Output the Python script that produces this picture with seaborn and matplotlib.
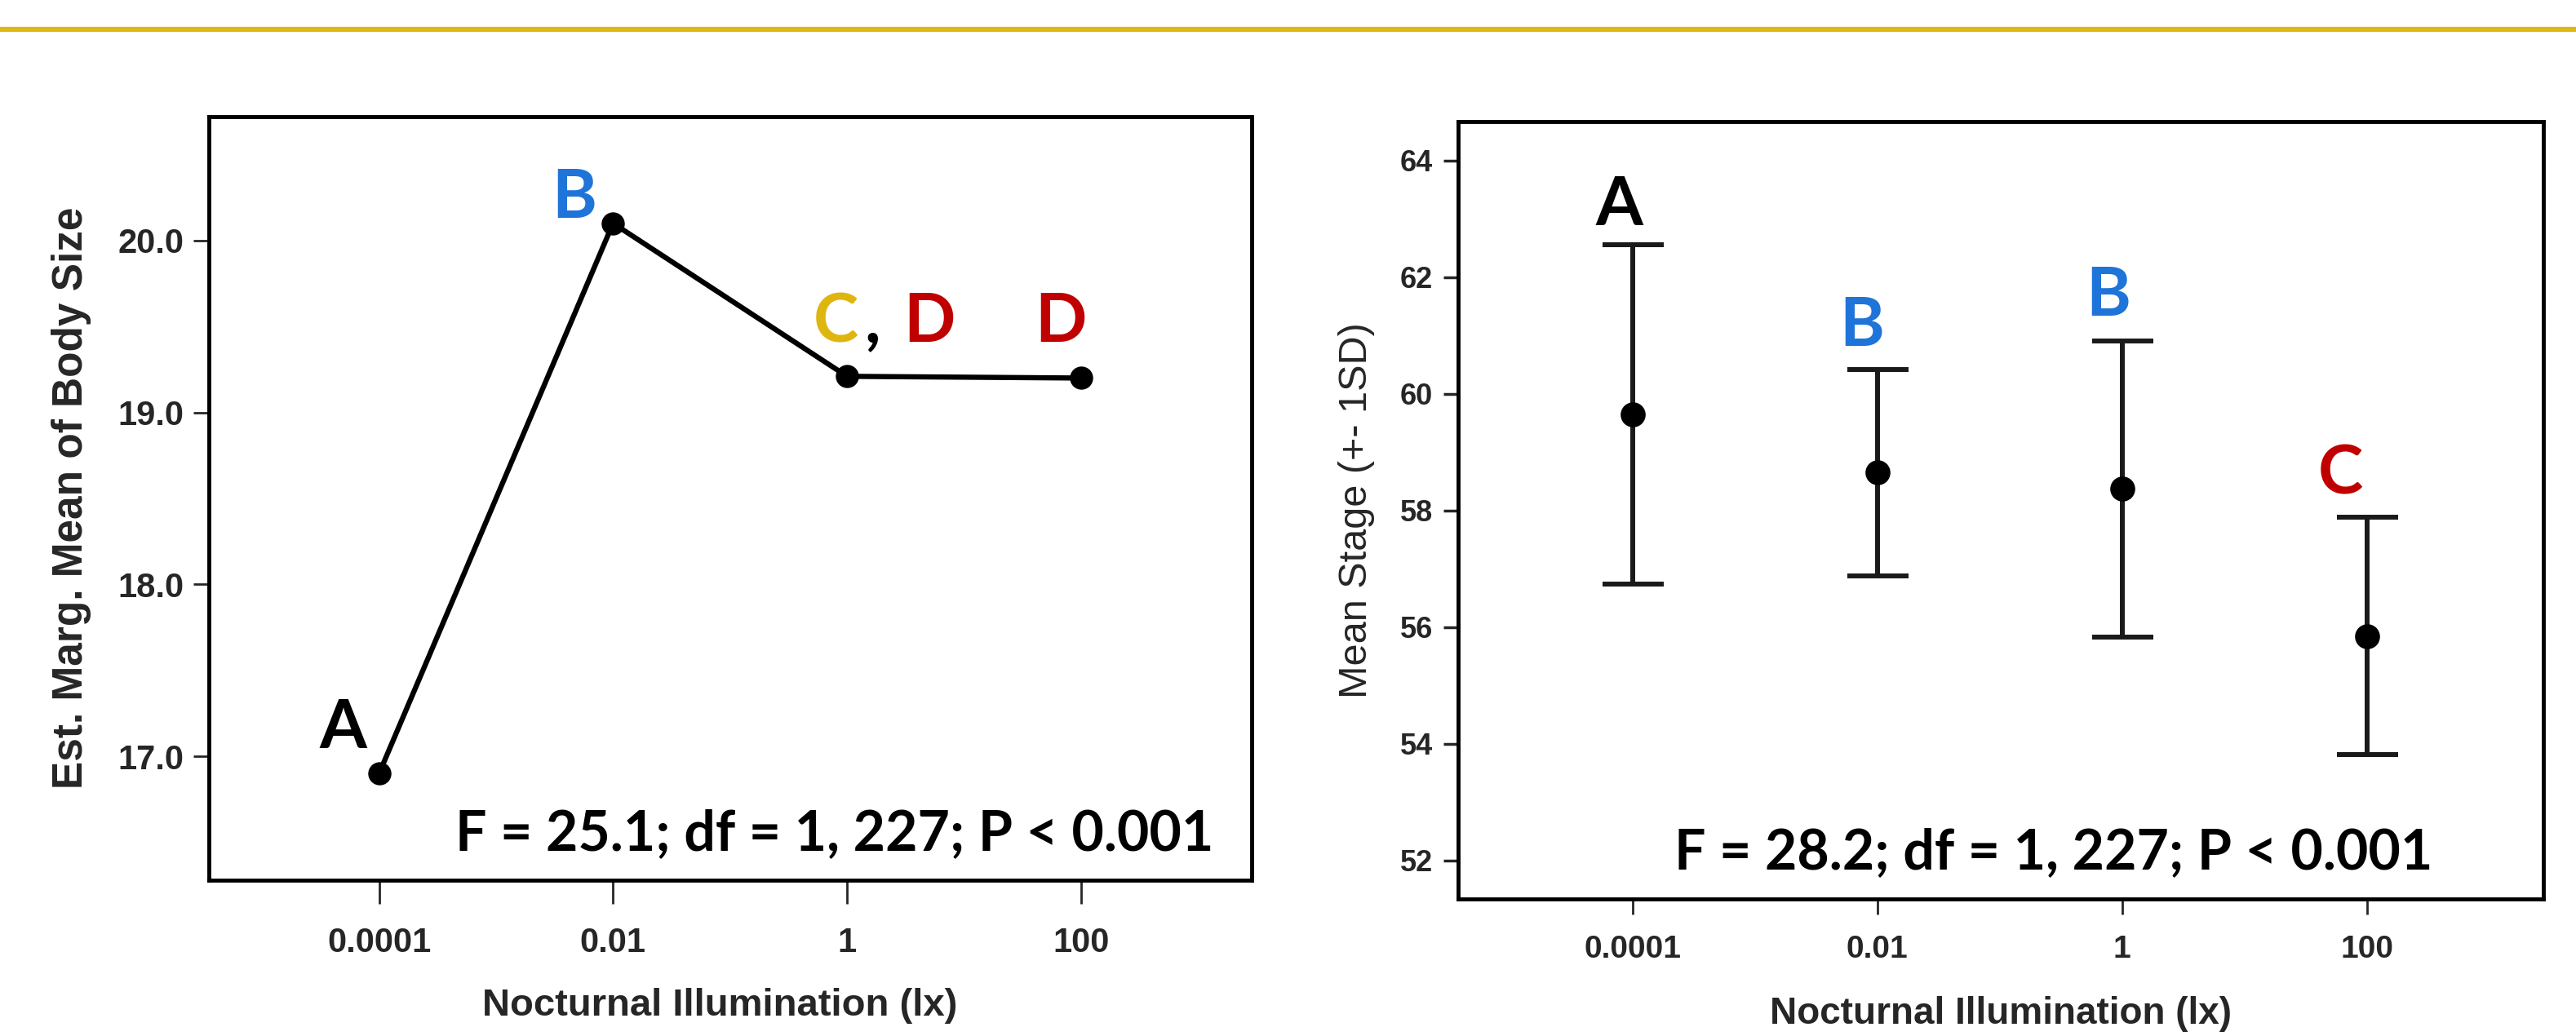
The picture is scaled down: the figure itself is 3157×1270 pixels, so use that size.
import numpy as np
import pandas as pd
import seaborn as sns
import matplotlib.pyplot as plt
from matplotlib.lines import Line2D

# data
lux = ['0.0001', '0.01', '1', '100']
body_size = [16.90, 20.10, 19.21, 19.20]
stage_mean = [59.65, 58.65, 58.37, 55.85]
stage_sd = [2.91, 1.77, 2.54, 2.04]

size_letters = ['A', 'B', 'C', 'D']
stage_letters = ['A', 'B', 'B', 'C']
stat_left = 'F = 25.1; df = 1, 227; P < 0.001'
stat_right = 'F = 28.2; df = 1, 227; P < 0.001'

BLUE = '#1F74DA'
GOLD = '#DFB50F'
RED = '#C00000'

sns.set_style('ticks')
plt.rcParams['font.family'] = ['Liberation Sans', 'DejaVu Sans']

fig = plt.figure(figsize=(31.57, 12.70), dpi=100)
ax1 = fig.add_axes([0.0811, 0.1504, 0.4048, 0.737])
ax2 = fig.add_axes([0.5660, 0.1323, 0.4213, 0.7504])

# yellow rule across the top
fig.add_artist(Line2D([0, 1], [0.9713, 0.9713], transform=fig.transFigure,
                      color='#DFB813', lw=4.5))

df1 = pd.DataFrame({'lux': lux, 'size': body_size})
sns.pointplot(data=df1, x='lux', y='size', order=lux, color='black',
              markers='o', linestyles='-', errorbar=None,
              markersize=17, linewidth=4.6, ax=ax1)

df2 = pd.DataFrame({'lux': lux, 'stage': stage_mean, 'sd': stage_sd})
ax2.errorbar(np.arange(len(lux)), df2['stage'], yerr=df2['sd'], fmt='none',
             ecolor='#1a1a1a', elinewidth=4.3, capsize=27, capthick=4.3, zorder=2)
sns.pointplot(data=df2, x='lux', y='stage', order=lux, color='black',
              markers='o', linestyles='none', errorbar=None,
              markersize=20, ax=ax2, zorder=3)

ax1.set_xlim(-0.727, 3.729)
ax1.set_ylim(16.28, 20.72)
ax1.set_yticks([17, 18, 19, 20])
ax1.set_yticklabels(['17.0', '18.0', '19.0', '20.0'])

ax2.set_xlim(-0.713, 3.72)
ax2.set_ylim(51.34, 64.67)
ax2.set_yticks([52, 54, 56, 58, 60, 62, 64])

for ax in (ax1, ax2):
    for s in ax.spines.values():
        s.set_visible(True)
        s.set_linewidth(3.5)
        s.set_color('black')
    ax.set_xticks(range(len(lux)))
    ax.set_xticklabels(lux)

ax1.tick_params(axis='y', length=14, width=2, pad=8, labelsize=30)
ax1.tick_params(axis='x', length=21, width=2, pad=20, labelsize=30)
ax2.tick_params(axis='y', length=13, width=2.5, pad=9, labelsize=26)
ax2.tick_params(axis='x', length=14, width=2, pad=18, labelsize=28)
for ax in (ax1, ax2):
    for lab in ax.get_xticklabels() + ax.get_yticklabels():
        lab.set_fontweight('bold')

ax1.set_xlabel('Nocturnal Illumination (lx)', fontsize=34, fontweight='bold')
ax1.set_ylabel('Est. Marg. Mean of Body Size', fontsize=37, fontweight='bold')
ax2.set_xlabel('Nocturnal Illumination (lx)', fontsize=33, fontweight='bold')
ax2.set_ylabel('Mean Stage (+- 1SD)', fontsize=35)
ax1.xaxis.set_label_coords(0.49, -0.1645)
ax1.xaxis.label.set_va('center')
ax1.yaxis.set_label_coords(-0.132, 0.501)
ax1.yaxis.label.set_va('center')
ax2.xaxis.set_label_coords(0.50, -0.148)
ax2.xaxis.label.set_va('center')
ax2.yaxis.set_label_coords(-0.0932, 0.4995)
ax2.yaxis.label.set_va('center')

# significance letters
lf = dict(family=['Lato', 'DejaVu Sans'], fontweight='bold', fontsize=60, va='baseline')
ax1.text(-0.155, 17.05, size_letters[0], color='black', ha='center', **lf)
ax1.text(0.835, 20.13, size_letters[1], color=BLUE, ha='center', **lf)
ax1.text(2.050, 19.41, size_letters[2], color=GOLD, ha='right', **lf)
ax1.text(2.075, 19.41, ',', color='black', ha='left', **lf)
ax1.text(2.240, 19.41, size_letters[3], color=RED, ha='left', **lf)
ax1.text(2.913, 19.41, size_letters[3], color=RED, ha='center', **lf)

stage_colors = ['black', BLUE, BLUE, RED]
stage_x = [-0.053, 0.937, 1.943, 2.893]
stage_y = [62.90, 60.83, 61.34, 58.28]
for x, y, t, c in zip(stage_x, stage_y, stage_letters, stage_colors):
    ax2.text(x, y, t, color=c, ha='center', **lf)

sf = dict(family=['Lato', 'DejaVu Sans'], fontweight='bold', fontsize=49,
          va='baseline', ha='center', color='black')
ax1.text(1.947, 16.454, stat_left, **sf)
ax2.text(1.718, 51.86, stat_right, **sf)

fig.savefig('out.png', dpi=100, facecolor='white')
